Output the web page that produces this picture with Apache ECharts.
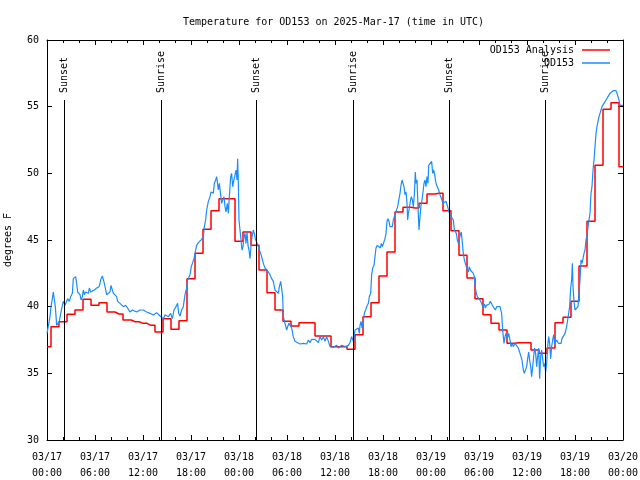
<!DOCTYPE html>
<html>
<head>
<meta charset="utf-8">
<script src="https://cdn.jsdelivr.net/npm/echarts@6/dist/echarts.min.js"></script>
<style>html,body{margin:0;padding:0;background:#fff}#c{width:640px;height:480px}</style>
</head>
<body>
<div id="c"></div>
<script>
// ---- data (hours since 03/17 00:00 UTC) ----
const xTickLabels = ['03/17\n00:00','03/17\n06:00','03/17\n12:00','03/17\n18:00','03/18\n00:00','03/18\n06:00','03/18\n12:00','03/18\n18:00','03/19\n00:00','03/19\n06:00','03/19\n12:00','03/19\n18:00','03/20\n00:00'];
const yTicks = [30, 35, 40, 45, 50, 55, 60];

// hourly analysis values, hour 0..72
const analysisTemps = [
37.0,38.5,38.87,39.43,39.75,40.55,40.1,40.3,39.6,39.45,39.0,38.87,38.75,38.6,38.1,39.1,38.3,38.95,
42.1,44.0,45.8,47.2,48.1,48.1,44.9,45.6,44.6,42.75,41.05,39.75,38.9,38.55,38.8,38.8,37.8,37.8,
37.0,37.0,36.8,37.9,39.25,40.3,42.3,44.1,47.1,47.45,47.4,47.75,48.45,48.5,47.2,45.7,43.85,42.15,
40.6,39.4,38.75,38.25,37.25,37.3,37.3,36.75,36.5,36.9,38.8,39.2,40.4,43.05,46.4,50.6,54.8,55.3,50.5];

const obsHours = [
0.0,0.17,0.375,0.5,0.67,0.79,0.92,1.04,1.21,1.42,1.54,1.75,1.92,2.04,2.25,2.46,2.58,2.79,2.96,3.17,3.29,3.42,3.58,3.71,3.83,4.0,4.125,4.25,4.42,4.54,4.67,4.83,4.96,5.17,5.29,5.46,5.67,5.92,6.21,6.5,6.625,6.75,6.92,7.04,7.17,7.33,7.46,7.67,7.875,8.0,8.17,8.29,8.5,8.71,8.83,9.125,9.33,9.54,9.83,10.08,10.25,10.375,10.67,10.92,11.21,11.42,11.625,11.83,12.04,12.25,12.46,12.875,
13.29,13.71,14.125,14.54,14.75,15.17,15.46,15.67,15.875,16.125,16.33,16.46,16.625,16.83,17.04,17.25,17.46,17.58,17.75,17.875,18.04,18.21,18.375,18.5,18.71,18.92,19.125,19.33,19.54,19.67,19.83,19.96,20.17,20.375,20.5,20.67,20.79,20.92,21.08,21.21,21.33,21.42,21.54,21.71,21.83,21.96,22.125,22.25,22.375,22.54,22.67,22.79,22.96,23.08,23.21,23.33,23.5,23.625,23.75,23.83,23.92,24.0,24.125,24.25,24.375,24.5,24.625,24.75,24.875,25.0,25.125,25.25,25.375,25.5,25.625,25.79,25.92,26.04,26.21,26.42,26.625,26.83,27.04,27.25,27.46,27.67,27.875,28.08,28.29,28.5,28.71,28.92,29.04,29.21,29.33,29.46,29.54,29.75,29.96,30.08,30.25,30.375,30.58,30.79,31.0,31.21,31.625,32.04,32.46,32.67,32.875,33.08,33.29,33.5,33.71,33.92,34.125,34.33,34.54,34.75,34.96,35.17,35.375,35.58,35.79,36.21,36.42,36.83,37.25,37.67,37.875,
38.08,38.29,38.42,38.5,38.71,38.92,39.04,39.125,39.25,39.375,39.54,39.67,39.83,39.96,40.17,40.29,40.46,40.58,40.71,40.875,41.0,41.125,41.29,41.42,41.54,41.67,41.79,41.92,42.04,42.17,42.25,42.375,42.5,42.625,42.75,42.875,43.0,43.17,43.29,43.42,43.54,43.71,43.83,44.0,44.125,44.25,44.375,44.5,44.625,44.75,44.875,45.0,45.08,45.17,45.29,45.42,45.54,45.67,45.79,45.92,46.04,46.125,46.25,46.375,46.5,46.625,46.75,46.875,47.0,47.125,47.25,47.375,47.5,47.625,47.71,47.83,47.96,48.08,48.21,48.33,48.46,48.58,48.71,48.83,48.96,49.125,49.25,49.375,49.5,49.625,49.75,49.875,50.0,50.125,50.25,50.375,50.5,50.625,50.79,50.92,51.04,51.17,51.29,51.42,51.54,51.67,51.79,51.92,52.04,52.17,52.29,52.42,52.54,52.67,52.79,52.92,53.04,53.17,53.29,53.42,53.54,53.67,53.79,53.92,54.125,54.33,54.46,54.54,54.67,54.79,54.92,55.04,55.17,55.29,55.42,55.54,55.67,55.79,55.92,56.04,56.21,56.42,
56.625,56.83,56.96,57.125,57.25,57.375,57.54,57.71,57.875,58.0,58.17,58.29,58.5,58.71,58.92,59.125,59.25,59.375,59.54,59.67,59.79,59.96,60.08,60.21,60.33,60.46,60.58,60.71,60.83,60.96,61.08,61.21,61.33,61.46,61.58,61.71,61.83,61.96,62.08,62.21,62.33,62.46,62.58,62.71,62.83,62.96,63.08,63.21,63.33,63.46,63.58,63.71,63.92,64.125,64.25,64.375,64.54,64.75,64.96,65.08,65.21,65.33,65.46,65.58,65.67,65.75,65.875,66.0,66.125,66.25,66.375,66.5,66.625,66.75,66.875,67.0,67.125,67.25,67.375,67.5,67.625,67.75,67.875,68.0,68.125,68.25,68.375,68.5,68.625,68.75,68.875,69.0,69.125,69.25,69.375,69.5,69.625,69.75,69.875,70.0,70.125,70.25,70.375,70.5,70.625,70.79,71.0,71.125,71.25,71.375,71.5,71.625,71.71,72.0];

const obsTemps = [
38.0,38.0,39.25,40.0,40.6,41.1,41.25,40.0,38.6,38.5,38.9,39.6,40.1,40.4,40.1,40.25,40.6,40.4,40.75,41.0,42.1,42.25,42.25,41.75,41.1,41.0,40.9,40.5,40.75,41.25,40.9,41.1,41.25,41.0,41.4,41.1,41.25,41.25,41.4,41.5,41.75,42.1,42.3,42.25,41.75,41.6,40.9,40.9,41.1,41.6,41.5,41.0,40.9,40.75,40.4,40.25,40.1,40.0,40.1,39.9,40.0,39.6,39.75,39.9,39.6,39.75,39.75,39.9,39.75,39.6,39.6,39.5,
39.375,39.55,39.3,39.1,39.4,39.25,39.5,39.1,39.75,40.0,40.25,39.5,39.3,39.75,40.0,40.9,41.4,42.0,42.1,42.4,43.0,43.1,43.6,44.0,44.6,44.8,44.95,45.05,45.25,46.0,46.5,47.25,47.9,48.25,48.6,48.75,48.5,49.25,49.5,49.75,49.6,48.75,49.25,49.4,47.75,48.0,48.25,47.5,47.1,47.75,47.0,48.25,49.75,50.0,49.0,49.4,49.25,50.25,49.5,51.1,49.25,46.5,45.75,45.0,44.25,44.5,45.25,45.5,44.75,45.6,44.6,44.25,43.6,44.5,45.25,45.75,45.5,45.1,45.0,44.5,44.4,43.75,43.25,42.9,42.75,42.6,42.4,42.1,41.9,41.25,41.1,41.0,41.5,41.9,41.75,40.75,39.25,38.75,38.25,38.5,38.75,38.9,38.4,37.75,37.4,37.25,37.2,37.25,37.2,37.5,37.3,37.55,37.4,37.55,37.6,37.3,37.75,37.5,37.75,37.4,37.75,37.4,37.0,36.9,36.95,37.1,36.9,37.1,37.0,37.1,37.3,
37.75,37.4,37.9,38.25,38.25,38.4,38.0,38.6,38.9,38.4,39.0,39.5,39.75,40.0,40.25,40.75,41.0,42.4,42.9,43.1,43.75,44.4,44.6,44.5,44.6,44.4,44.75,44.5,44.4,44.6,45.1,45.5,46.4,46.6,46.4,46.0,45.9,46.0,46.5,46.75,47.0,47.1,47.5,47.5,48.5,49.1,49.5,49.4,49.0,48.4,48.6,47.75,46.5,47.0,47.4,47.9,48.25,48.0,47.5,48.4,50.1,49.25,49.5,47.5,45.75,46.75,47.6,48.0,48.6,49.25,49.5,49.0,49.75,49.25,50.6,50.75,50.5,50.9,50.0,50.25,49.9,49.4,49.1,49.0,48.75,48.4,48.25,48.0,47.75,47.9,47.6,47.9,47.75,47.4,47.1,47.0,46.75,46.9,46.5,45.75,45.6,45.5,45.0,44.75,44.9,45.4,45.6,45.75,44.0,43.5,43.25,43.0,42.9,42.6,43.0,42.75,42.9,42.6,42.5,42.25,41.4,41.0,40.75,40.6,40.5,40.25,40.0,40.1,40.2,39.9,40.1,40.25,40.0,40.2,40.4,40.25,40.1,40.0,40.1,39.75,40.0,39.9,
40.0,39.5,38.25,37.25,37.75,38.0,37.6,38.0,37.5,37.0,37.25,37.0,37.25,37.1,36.9,36.5,36.25,36.0,35.25,35.0,35.0,35.5,36.1,36.6,36.0,35.5,34.75,35.5,36.25,36.9,36.5,35.5,36.25,36.9,34.6,36.25,36.75,36.9,35.5,35.75,35.1,35.75,37.0,37.75,37.25,36.1,37.0,37.5,37.9,37.25,37.25,37.5,37.25,37.1,37.25,37.6,37.75,38.0,38.5,39.0,39.5,40.0,41.4,42.0,43.25,41.5,40.4,39.75,39.6,39.75,40.0,41.0,42.0,43.5,43.25,43.6,44.0,44.25,45.0,45.25,46.0,46.5,47.0,48.5,49.0,50.25,51.0,52.0,53.0,53.5,53.9,54.25,54.5,54.75,55.0,55.1,55.25,55.4,55.5,55.6,55.75,55.9,56.0,56.1,56.1,56.2,56.25,56.2,56.0,55.75,55.5,55.1,55.0,55.1];

const sunTimes = [2.17, 14.3, 26.18, 38.27, 50.2, 62.2];
const sunLabels = ['Sunset', 'Sunrise', 'Sunset', 'Sunrise', 'Sunset', 'Sunrise'];
const seriesNames = ['OD153 Analysis', 'OD153'];

// ---- chart ----
const FONT = 'DejaVu Sans Mono';
const analysisData = analysisTemps.map((t, i) => [i, t]);
const obsData = obsHours.map((h, i) => [h, obsTemps[i]]);
const sunData = sunTimes.map((h, i) => [h, sunLabels[i]]);
const SUN_TOP = 55.5;

const chart = echarts.init(document.getElementById('c'), null, {renderer: 'canvas'});

function xAxisOpt(pos, withLabels) {
  return {
    type: 'value', min: 0, max: 72, interval: 6, position: pos,
    axisLine: {show: true, onZero: false, lineStyle: {color: '#000', width: 1}},
    axisTick: {show: true, inside: true, length: 5, lineStyle: {color: '#000', width: 1}},
    minorTick: {show: true, splitNumber: 3, length: 3, lineStyle: {color: '#000', width: 1}},
    splitLine: {show: false}, minorSplitLine: {show: false},
    axisLabel: withLabels ? {
      show: true, margin: 9, lineHeight: 16,
      fontFamily: FONT, fontSize: 10, color: '#000',
      formatter: v => xTickLabels[Math.round(v / 6)] || ''
    } : {show: false}
  };
}
function yAxisOpt(pos, withLabels) {
  const o = {
    type: 'value', min: yTicks[0], max: yTicks[yTicks.length - 1], interval: 5, position: pos,
    axisLine: {show: true, onZero: false, lineStyle: {color: '#000', width: 1}},
    axisTick: {show: true, inside: true, length: 5, lineStyle: {color: '#000', width: 1}},
    splitLine: {show: false},
    axisLabel: withLabels ? {show: true, margin: 8, fontFamily: FONT, fontSize: 10, color: '#000'} : {show: false}
  };
  if (withLabels) {
    o.name = 'degrees F'; o.nameLocation = 'middle'; o.nameGap = 34; o.nameRotate = 90;
    o.nameTextStyle = {fontFamily: FONT, fontSize: 10, color: '#000'};
  }
  return o;
}

chart.setOption({
  animation: false,
  backgroundColor: '#fff',
  title: {
    text: 'Temperature for OD153 on 2025-Mar-17 (time in UTC)',
    left: 178, top: 12,
    textStyle: {fontFamily: FONT, fontSize: 10, fontWeight: 'normal', color: '#000'}
  },
  legend: {
    orient: 'vertical', align: 'right', right: 30, top: 45, padding: 0,
    icon: 'rect', itemWidth: 28, itemHeight: 1.5, itemGap: 3,
    data: seriesNames,
    textStyle: {fontFamily: FONT, fontSize: 10, color: '#000', padding: [0, 3, 0, 0]}
  },
  grid: {left: 47, right: 17, top: 40, bottom: 40, containLabel: false, outerBoundsMode: 'none'},
  xAxis: [xAxisOpt('bottom', true), xAxisOpt('top', false)],
  yAxis: [yAxisOpt('left', true), yAxisOpt('right', false)],
  series: [
    {
      name: seriesNames[0], type: 'line', step: 'middle', data: analysisData,
      symbol: 'none', color: '#ff0000',
      lineStyle: {color: '#ff0000', width: 1.5}, z: 2
    },
    {
      name: seriesNames[1], type: 'line', data: obsData,
      symbol: 'none', color: '#1a8cff',
      lineStyle: {color: '#1a8cff', width: 1.2}, z: 3
    },
    {
      type: 'custom', data: sunData, z: 4, silent: true,
      encode: {x: 0},
      renderItem: function (params, api) {
        const h = api.value(0);
        const p0 = api.coord([h, yTicks[0]]);
        const p1 = api.coord([h, SUN_TOP]);
        const x = Math.round(p0[0]) + 0.5;
        return {
          type: 'group',
          children: [
            {type: 'line', shape: {x1: x, y1: p0[1], x2: x, y2: p1[1]},
             style: {stroke: '#000', lineWidth: 1}},
            {type: 'text', x: x, y: p1[1] - 7, rotation: Math.PI / 2,
             style: {text: sunLabels[params.dataIndex], fontFamily: FONT, fontSize: 10,
                     fill: '#000', align: 'left', verticalAlign: 'middle'}}
          ]
        };
      }
    }
  ]
});
</script>
</body>
</html>
